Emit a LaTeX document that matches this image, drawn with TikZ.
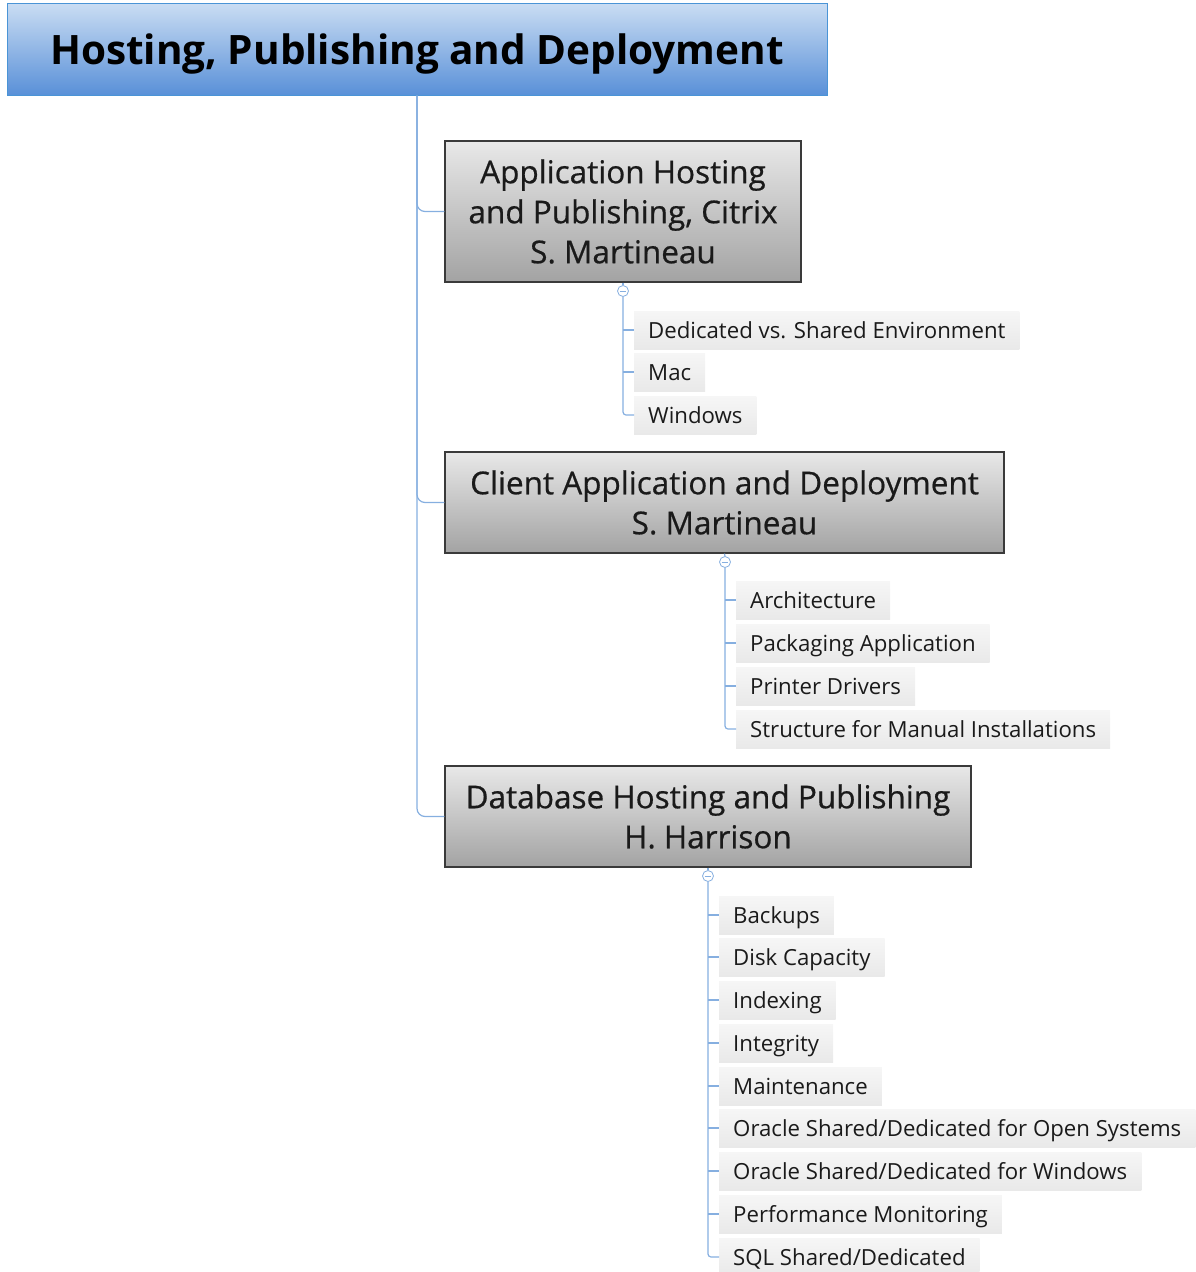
\documentclass[tikz,border=0pt]{standalone}
\usepackage{fontspec}
\setmainfont{Open Sans}
\newfontfamily\titlefont{Open Sans}
\newfontfamily\boxfont{Open Sans}[FakeBold=0.6]
\begin{document}
\begin{tikzpicture}[x=1pt,y=-1pt,
  conn/.style={draw=connblue, line width=1.2pt},
  titlebox/.style={draw=titleborder, line width=1pt, top color=titletop, bottom color=titlebot,
    minimum width=820pt, minimum height=92pt, inner sep=0pt, text height=30pt, text depth=0pt,
    font=\titlefont\fontsize{40.5}{46}\selectfont\bfseries, text=black},
  mainbox/.style={draw=boxborder, line width=1.2pt, top color=boxtop, bottom color=boxbot,
    inner sep=0pt, align=center, font=\boxfont\fontsize{31.5}{40}\selectfont, text=textdark},
  leaf/.style={anchor=west, top color=leaftop, bottom color=leafbot, inner xsep=14pt,
    minimum height=38pt, inner ysep=0pt, text height=16pt, text depth=0pt,
    font=\fontsize{22.2}{26}\selectfont, text=textdark},
  toggle/.style={circle, draw=connblue, fill=white, line width=0.8pt, minimum size=11pt, inner sep=0pt},
]
\definecolor{connblue}{HTML}{86AFE0}
\definecolor{titleborder}{HTML}{4A94D6}
\definecolor{titletop}{HTML}{CADDF3}
\definecolor{titlebot}{HTML}{5990D8}
\definecolor{boxborder}{HTML}{3A3A3A}
\definecolor{boxtop}{HTML}{E8E8E8}
\definecolor{boxbot}{HTML}{A3A3A3}
\definecolor{leaftop}{HTML}{F6F6F6}
\definecolor{leafbot}{HTML}{E9E9E9}
\definecolor{textdark}{HTML}{1A1A1A}

\useasboundingbox (0,0) rectangle (1195,1272);

% title
\node[titlebox] (title) at (417,49) {Hosting, Publishing and Deployment};

% main boxes
\node[mainbox, minimum width=356pt, minimum height=141pt] (b1) at (623,211.5)
  {Application Hosting\\and Publishing, Citrix\\S. Martineau};
\node[mainbox, minimum width=559pt, minimum height=101pt] (b2) at (724.5,502.5)
  {Client Application and Deployment\\S. Martineau};
\node[mainbox, minimum width=526pt, minimum height=101pt] (b3) at (708,816.5)
  {Database Hosting and Publishing\\H. Harrison};

% trunk
\draw[conn, rounded corners=8pt] (title.south) |- (b1.west);
\draw[conn, rounded corners=8pt] (title.south) |- (b2.west);
\draw[conn, rounded corners=8pt] (title.south) |- (b3.west);

% toggles
\node[toggle] (t1) at (623,291) {};
\node[toggle] (t2) at (725,562) {};
\node[toggle] (t3) at (708,876) {};
\draw[connblue, line width=0.8pt] (t1.west) ++(2.5,0) -- ++(6,0);
\draw[connblue, line width=0.8pt] (t2.west) ++(2.5,0) -- ++(6,0);
\draw[connblue, line width=0.8pt] (t3.west) ++(2.5,0) -- ++(6,0);
\draw[conn] (b1.south) -- (t1.north);
\draw[conn] (b2.south) -- (t2.north);
\draw[conn] (b3.south) -- (t3.north);

% leaves group 1
\node[leaf] (l11) at (634,330) {Dedicated vs. Shared Environment};
\node[leaf] (l12) at (634,372) {Mac};
\node[leaf] (l13) at (634,415) {Windows};
\draw[conn, rounded corners=3pt] (t1.south) |- (l13.west);
\draw[conn] (t1.south |- l11.west) -- (l11.west);
\draw[conn] (t1.south |- l12.west) -- (l12.west);

% leaves group 2
\node[leaf] (l21) at (736,600) {Architecture};
\node[leaf] (l22) at (736,643) {Packaging Application};
\node[leaf] (l23) at (736,686) {Printer Drivers};
\node[leaf] (l24) at (736,729) {Structure for Manual Installations};
\draw[conn, rounded corners=3pt] (t2.south) |- (l24.west);
\foreach \n in {l21,l22,l23} \draw[conn] (t2.south |- \n.west) -- (\n.west);

% leaves group 3
\node[leaf] (l31) at (719,915) {Backups};
\node[leaf] (l32) at (719,957) {Disk Capacity};
\node[leaf] (l33) at (719,1000) {Indexing};
\node[leaf] (l34) at (719,1043) {Integrity};
\node[leaf] (l35) at (719,1086) {Maintenance};
\node[leaf] (l36) at (719,1128) {Oracle Shared/Dedicated for Open Systems};
\node[leaf] (l37) at (719,1171) {Oracle Shared/Dedicated for Windows};
\node[leaf] (l38) at (719,1214) {Performance Monitoring};
\node[leaf] (l39) at (719,1257) {SQL Shared/Dedicated};
\draw[conn, rounded corners=3pt] (t3.south) |- (l39.west);
\foreach \n in {l31,l32,l33,l34,l35,l36,l37,l38} \draw[conn] (t3.south |- \n.west) -- (\n.west);
\end{tikzpicture}
\end{document}
